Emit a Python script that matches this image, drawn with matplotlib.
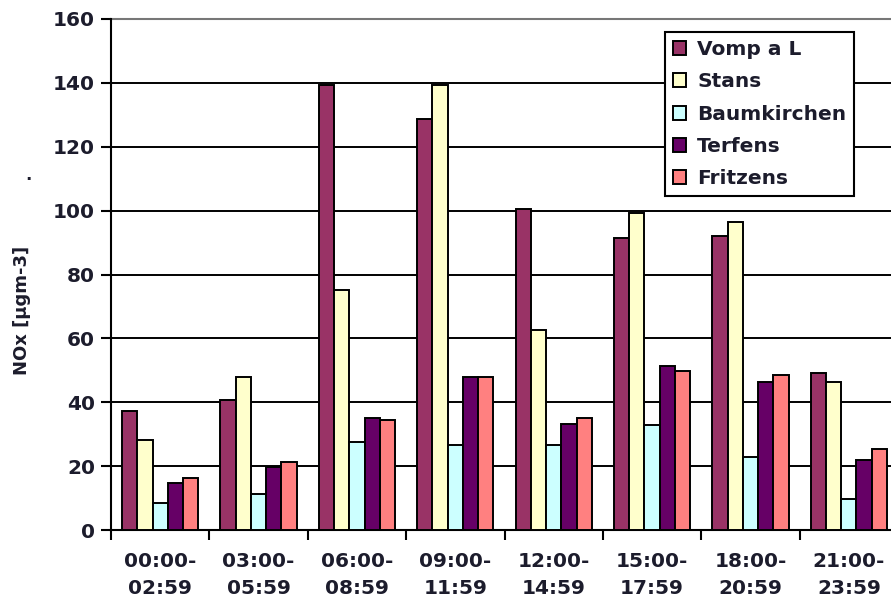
import matplotlib
matplotlib.use("Agg")
import matplotlib.pyplot as plt
import numpy as np

# Three-hour time windows
periods = ["00:00-\n02:59", "03:00-\n05:59", "06:00-\n08:59", "09:00-\n11:59",
           "12:00-\n14:59", "15:00-\n17:59", "18:00-\n20:59", "21:00-\n23:59"]

# Mean NOx per station and time window (µg/m³)
vomp = [37.3, 40.7, 139.4, 128.7, 100.5, 91.4, 92.1, 49.1]
stans = [28.2, 47.9, 75.2, 139.2, 62.5, 99.3, 96.3, 46.3]
baumkirchen = [8.4, 11.2, 27.5, 26.6, 26.6, 32.9, 23.0, 9.7]
terfens = [14.8, 19.8, 35.2, 47.9, 33.1, 51.4, 46.4, 21.9]
fritzens = [16.2, 21.2, 34.5, 47.9, 35.2, 49.9, 48.6, 25.3]

station_names = ["Vomp a L", "Stans", "Baumkirchen", "Terfens", "Fritzens"]
station_values = [vomp, stans, baumkirchen, terfens, fritzens]
station_colors = ["#993366", "#FFFFCC", "#CCFFFF", "#660066", "#FF8080"]

yticks = [0, 20, 40, 60, 80, 100, 120, 140, 160]

plt.rcParams["font.family"] = ["DejaVu Sans"]
text_color = "#1c1c2c"
fs = 14.5

fig = plt.figure(figsize=(8.91, 6.03), dpi=100)
# plot area runs slightly past the right edge of the figure
ax = fig.add_axes([111 / 891, (603 - 530) / 603, 787 / 891, 511 / 603])

x = np.arange(len(periods))
bar_w = 0.155
n = len(station_names)
for i, (name, vals, col) in enumerate(zip(station_names, station_values, station_colors)):
    offs = (i - (n - 1) / 2) * bar_w
    ax.bar(x + offs, vals, width=bar_w, color=col, edgecolor="black",
           linewidth=1.4, label=name, zorder=3)

ax.set_xlim(-0.5, len(periods) - 0.5)
ax.set_ylim(0, 160)
ax.set_yticks(yticks)
ax.set_yticklabels([str(v) for v in yticks], fontsize=fs, fontweight="bold",
                   color=text_color)
ax.yaxis.grid(True, color="black", linewidth=1.4, zorder=0)
ax.set_axisbelow(True)

# category boundaries carry the tick marks, labels sit at the centres
ax.set_xticks(np.arange(-0.5, len(periods), 1.0))
ax.set_xticklabels([])
ax.set_xticks(x, minor=True)
ax.set_xticklabels(periods, minor=True, fontsize=fs, fontweight="bold",
                   color=text_color, linespacing=1.5)
ax.tick_params(axis="x", which="minor", length=0, pad=16)
ax.tick_params(axis="x", which="major", length=7, width=1.5, direction="out")
ax.tick_params(axis="y", length=7, width=1.5, direction="out", pad=4.5)

for side in ["top", "right"]:
    ax.spines[side].set_visible(False)
ax.spines["left"].set_linewidth(1.5)
ax.spines["bottom"].set_linewidth(1.5)
# top border of the plot area
ax.axhline(160, color="#777777", linewidth=1.5, zorder=1, clip_on=False)

fig.text(22 / 891, 1 - 310 / 603, "NOx [µgm-3]", rotation=90, fontsize=13,
         fontweight="bold", color=text_color, ha="center", va="center")
fig.text(28 / 891, 1 - 175 / 603, ".", fontsize=12, fontweight="bold",
         color=text_color, ha="center", va="center")

leg = ax.legend(loc="upper left", bbox_to_anchor=(665 / 891, 1 - 32 / 603),
                bbox_transform=fig.transFigure, frameon=True, fancybox=False,
                edgecolor="black", framealpha=1, borderpad=0.4, labelspacing=0.66,
                handlelength=0.65, handleheight=0.7, handletextpad=0.55,
                borderaxespad=0,
                prop={"size": fs, "weight": "bold"})
leg.get_frame().set_linewidth(1.5)
for t in leg.get_texts():
    t.set_color(text_color)

fig.savefig("out.png", dpi=100)
